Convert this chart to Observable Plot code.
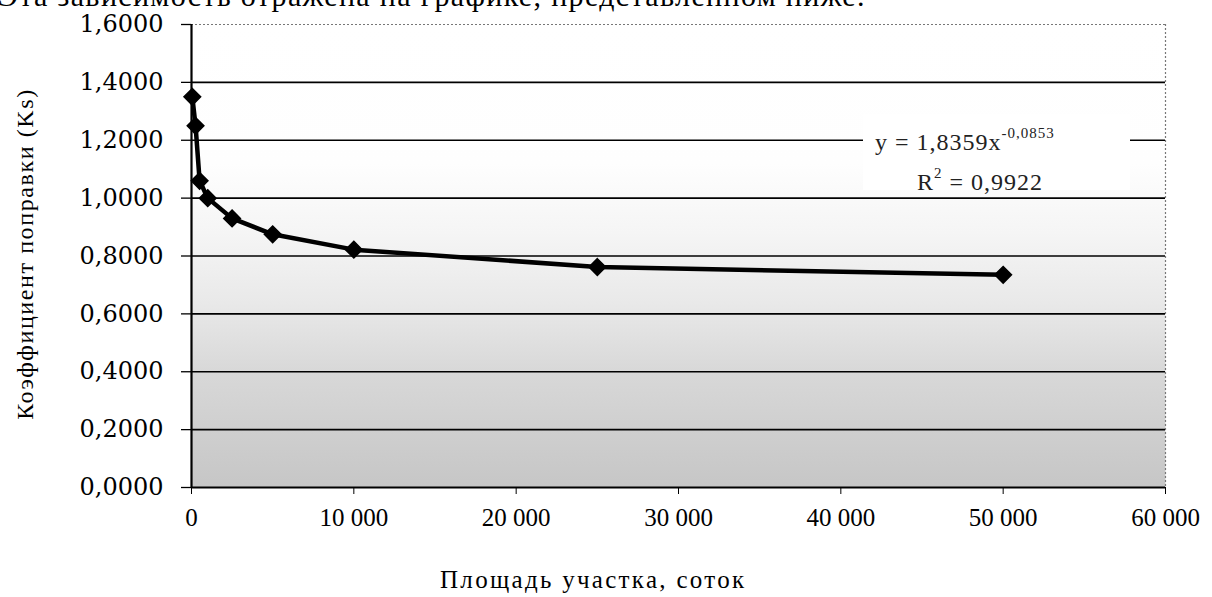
<!DOCTYPE html>
<html>
<head>
<meta charset="utf-8">
<script src="https://cdn.jsdelivr.net/npm/d3@7"></script>
<script src="https://cdn.jsdelivr.net/npm/@observablehq/plot@0.6"></script>
<style>
  html, body { margin: 0; padding: 0; background: #fff; overflow: hidden; }
  #wrap { position: relative; width: 1212px; height: 597px; overflow: hidden; }
  .txt { position: absolute; font-family: "Liberation Serif", "Times New Roman", serif; color: #000; white-space: nowrap; }
</style>
</head>
<body>
<div id="wrap"></div>
<script>
// ---- data ----
const area = [50, 250, 500, 1000, 2500, 5000, 10000, 25000, 50000];
const ks   = [1.35, 1.25, 1.06, 1.00, 0.93, 0.875, 0.822, 0.762, 0.735];
const yTicks = [0, 0.2, 0.4, 0.6, 0.8, 1.0, 1.2, 1.4, 1.6];
const yGrid  = [0.2, 0.4, 0.6, 0.8, 1.0, 1.2, 1.4];
const xTicks = [0, 10000, 20000, 30000, 40000, 50000, 60000];
const introText = "Эта зависимость отражена на графике, представленном ниже.";
const xTitle = "Площадь участка, соток";
const yTitle = "Коэффициент поправки (Ks)";
const eqMain = "y = 1,8359x";
const eqExp = "-0,0853";
const r2Text = "R";
const r2Val = " = 0,9922";

const points = area.map((a, i) => ({area: a, ks: ks[i]}));

const fmtY = d => d.toFixed(4).replace(".", ",");
const fmtX = d => d === 0 ? "0" : d3.format(",")(d).replace(/,/g, " ");

const chart = Plot.plot({
  width: 1212,
  height: 597,
  marginLeft: 191,
  marginRight: 47,
  marginTop: 24,
  marginBottom: 110,
  x: {domain: [0, 60000]},
  y: {domain: [0, 1.6]},
  style: {background: "transparent", color: "#000"},
  marks: [
    Plot.frame({fill: "url(#bgGrad)", stroke: "none"}),
    Plot.ruleY([1.6], {stroke: "#777", strokeWidth: 1.2, strokeDasharray: "2,2"}),
    Plot.ruleX([60000], {stroke: "#777", strokeWidth: 1.2, strokeDasharray: "2,2"}),
    Plot.ruleY(yGrid, {stroke: "#000", strokeWidth: 1.6}),
    Plot.ruleY([0], {stroke: "#000", strokeWidth: 2}),
    Plot.ruleX([0], {stroke: "#000", strokeWidth: 2.2}),
    Plot.axisY({ticks: yTicks, tickFormat: fmtY, tickSize: 10, tickPadding: 18,
      fontFamily: "DejaVu Serif", fontSize: 24, stroke: "#000", strokeWidth: 1.3, label: null}),
    Plot.axisX({ticks: xTicks, tickFormat: fmtX, tickSize: 7, tickPadding: 14,
      fontFamily: "Liberation Serif", fontSize: 25, strokeWidth: 1, label: null}),
    Plot.line(points, {x: "area", y: "ks", stroke: "#000", strokeWidth: 4.5, strokeLinejoin: "round"}),
    Plot.dot(points, {x: "area", y: "ks", symbol: "diamond2", r: 7.5, fill: "#000", stroke: "#000"})
  ]
});

// gradient background (scan halftone from white at top to grey at bottom)
const ns = "http://www.w3.org/2000/svg";
const defs = document.createElementNS(ns, "defs");
const grad = document.createElementNS(ns, "linearGradient");
grad.setAttribute("id", "bgGrad");
grad.setAttribute("x1", "0"); grad.setAttribute("y1", "0");
grad.setAttribute("x2", "0"); grad.setAttribute("y2", "1");
[["0", "#ffffff"], ["0.3", "#fefefe"], ["0.45", "#f5f5f5"], ["0.6", "#e9e9e9"], ["0.75", "#d8d8d8"], ["1", "#c6c6c6"]]
  .forEach(([o, c]) => {
    const s = document.createElementNS(ns, "stop");
    s.setAttribute("offset", o); s.setAttribute("stop-color", c);
    grad.appendChild(s);
  });
defs.appendChild(grad);
chart.insertBefore(defs, chart.firstChild);

const wrap = document.getElementById("wrap");
wrap.appendChild(chart);
chart.style.position = "absolute"; chart.style.left = "0"; chart.style.top = "0";

function addText(html, css) {
  const d = document.createElement("div");
  d.className = "txt";
  d.innerHTML = html;
  Object.assign(d.style, {fontFamily: "'Liberation Serif', 'Times New Roman', serif"}, css);
  wrap.appendChild(d);
  return d;
}
const sup = t => "<sup style='font-size:15px;vertical-align:12px;line-height:0'>" + t + "</sup>";
addText(introText, {left: "-2px", top: "-19px", fontSize: "30px", lineHeight: "30px", letterSpacing: "1.35px"});
addText(xTitle, {left: "440px", top: "565px", fontSize: "25px", lineHeight: "30px", letterSpacing: "2.3px"});
addText(yTitle, {left: "25px", top: "254px", fontSize: "24px", lineHeight: "26px", letterSpacing: "1.6px",
  transform: "translate(-50%, -50%) rotate(-90deg)"});
// white label box of the trend equation
addText("", {left: "863px", top: "114px", width: "267px", height: "76px", background: "#fff"});
addText(eqMain + sup(eqExp), {left: "875px", top: "128px", fontSize: "24px", lineHeight: "28px", letterSpacing: "1px", color: "#222"});
addText(r2Text + sup("2") + r2Val, {left: "917px", top: "168px", fontSize: "24px", lineHeight: "28px", letterSpacing: "1px", color: "#222"});
</script>
</body>
</html>
